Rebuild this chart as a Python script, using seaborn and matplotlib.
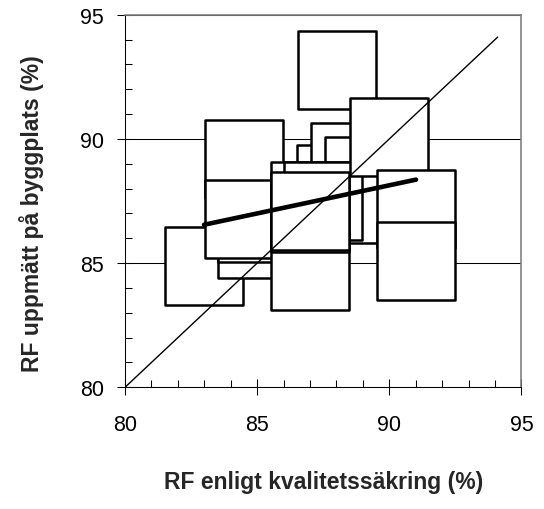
import numpy as np
import pandas as pd
import matplotlib
matplotlib.use("Agg")
import matplotlib.pyplot as plt
import seaborn as sns
from matplotlib.ticker import MultipleLocator

# RF values (draw order matters: later squares hide earlier ones)
rf_kvalitet = [82.99, 84.99, 84.99, 84.51, 84.51, 88.02, 87.98, 88.52, 89.03,
               88.52, 87.01, 87.50, 87.01, 87.01, 87.01, 90.00, 91.01, 91.01]
rf_byggplats = [84.87, 85.98, 86.63, 89.19, 86.78, 92.77, 88.18, 89.06, 88.49,
                87.39, 87.49, 87.49, 84.70, 87.00, 87.08, 90.07, 87.18, 85.07]
diag = [80, 94.1]
ticks = [80, 85, 90, 95]

df = pd.DataFrame({"x": rf_kvalitet, "y": rf_byggplats})

sns.set_style("ticks")
plt.rcParams['font.family'] = ['Liberation Sans', 'DejaVu Sans']

fig = plt.figure(figsize=(5.44, 5.10), dpi=100)
ax = fig.add_axes([0.2298, 0.2386, 0.7288, 0.7306])

ax.yaxis.grid(True, color="black", linewidth=0.75)
ax.set_axisbelow(True)

sns.scatterplot(data=df, x="x", y="y", marker="s", s=56 ** 2, color="white",
                edgecolor="black", linewidth=1.8, ax=ax, zorder=3, legend=False)

ax.plot(diag, diag, color="black", linewidth=1.0, zorder=4)
sns.regplot(data=df, x="x", y="y", scatter=False, ci=None, ax=ax,
            line_kws={"color": "black", "linewidth": 3.3, "solid_capstyle": "round",
                      "zorder": 5})

ax.set_xlim(80, 95)
ax.set_ylim(80, 95)
ax.set_xticks(ticks)
ax.set_yticks(ticks)
ax.xaxis.set_minor_locator(MultipleLocator(1))
ax.yaxis.set_minor_locator(MultipleLocator(1))
ax.tick_params(which="major", direction="inout", length=12, width=0.75, color="black",
               labelsize=15.5, labelcolor="black")
ax.tick_params(axis="x", which="major", pad=13)
ax.tick_params(axis="y", which="major", pad=9)
ax.tick_params(which="minor", direction="in", length=5, width=0.75, color="black")

for side in ["left", "bottom"]:
    ax.spines[side].set_color("black")
    ax.spines[side].set_linewidth(0.75)
for side in ["top", "right"]:
    ax.spines[side].set_visible(True)
    ax.spines[side].set_color("#808080")
    ax.spines[side].set_linewidth(1.2)

ax.set_xlabel("RF enligt kvalitetssäkring (%)", fontsize=16.5, fontweight="bold")
ax.set_ylabel("RF uppmätt på byggplats (%)", fontsize=16.5, fontweight="bold")
ax.xaxis.set_label_coords(0.5, -0.222)
ax.yaxis.set_label_coords(-0.205, 0.47)

fig.savefig("out.png", dpi=100)
